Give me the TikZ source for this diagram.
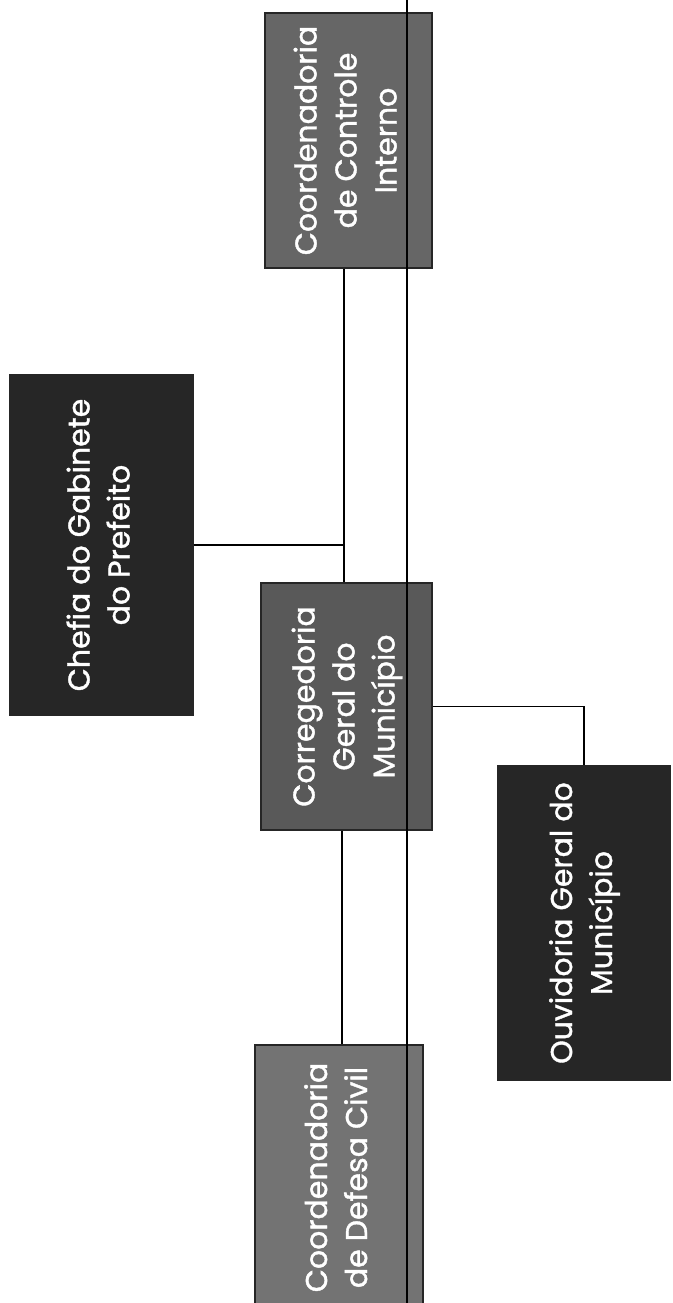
\documentclass[tikz,border=0pt]{standalone}
\usepackage{fontspec}
\setmainfont{Poppins}
\newfontfamily\unitfont{Poppins}[FakeBold=1.3]
\usepackage{graphicx}
\newcommand{\vtext}[1]{\rotatebox{90}{\begin{tabular}{@{}c@{}}#1\end{tabular}}}

\begin{document}
\begin{tikzpicture}[x=1pt,y=-1pt,
  unit/.style={draw=black!85,line width=1.2pt,inner sep=0pt,text=white,font=\unitfont\fontsize{30}{40}\selectfont},
  greyunit/.style={unit,fill=black!60},
  darkunit/.style={unit,fill=black!85},
  link/.style={draw=black,line width=1.2pt}]
\useasboundingbox (0,0) rectangle (672,1303);
% boxes
\node[greyunit,minimum width=167pt,minimum height=255pt] (ci) at (348.5,140.5) {\vtext{Coordenadoria\\de Controle\\Interno}};
\node[darkunit,minimum width=183pt,minimum height=340pt] (chefia) at (101.5,545) {\vtext{Chefia do Gabinete\\do Prefeito}};
\node[greyunit,fill=black!65,minimum width=171pt,minimum height=247pt] (corr) at (346.5,706.5) {\vtext{Corregedoria\\Geral do\\Município}};
\node[darkunit,minimum width=172pt,minimum height=314pt] (ouv) at (584,923) {\vtext{Ouvidoria Geral do\\Município}};
\node[greyunit,fill=black!55,minimum width=168pt,minimum height=265pt] (defesa) at (339,1177.5) {\vtext{Coordenadoria\\de Defesa Civil}};
% connectors
\coordinate (jc) at (344,547);
\coordinate (jd) at (342,950);
\coordinate (trunktop) at (407,0);
\coordinate (trunkend) at (407,1303);
\draw[link] (ci.south -| jc) -- (corr.north -| jc);
\draw[link] (chefia.east) -- (chefia.east -| jc);
\draw[link] (corr.south -| jd) -- (defesa.north -| jd);
\draw[link] (corr.east) -| (ouv.north);
\draw[link,line width=1.5pt] (trunktop) -- (trunkend);
\end{tikzpicture}
\end{document}
